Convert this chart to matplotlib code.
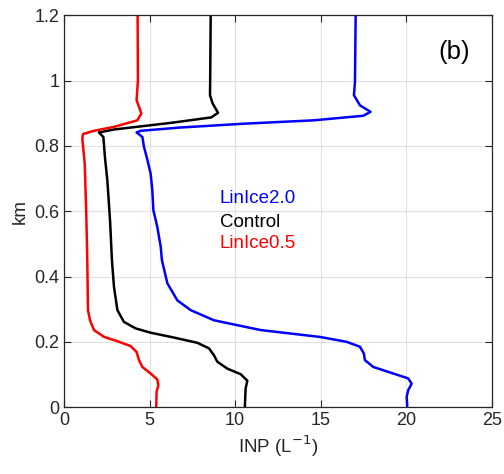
import matplotlib
matplotlib.use("Agg")
import matplotlib.pyplot as plt

# profiles (INP in 1/L, height in km)
lo_z = [0.0, 0.006, 0.047, 0.067, 0.085, 0.103, 0.123, 0.144, 0.169, 0.187, 0.202, 0.215, 0.236,
        0.266, 0.297, 0.45, 0.593, 0.746, 0.822, 0.836, 0.846, 0.858, 0.878, 0.899, 0.940, 1.001, 1.2]
lo_inp = [5.39, 5.39, 5.41, 5.51, 5.45, 5.06, 4.58, 4.38, 4.24, 3.89, 3.12, 2.34, 1.75,
          1.52, 1.40, 1.36, 1.30, 1.21, 1.07, 1.11, 1.75, 2.92, 4.28, 4.52, 4.24, 4.32, 4.30]

ctl_z = [0.0, 0.006, 0.057, 0.081, 0.101, 0.118, 0.139, 0.159, 0.180, 0.197, 0.213, 0.228, 0.241,
         0.261, 0.297, 0.368, 0.45, 0.572, 0.695, 0.766, 0.827, 0.841, 0.850, 0.870, 0.887, 0.901,
         0.930, 0.955, 1.0, 1.2]
ctl_inp = [10.57, 10.57, 10.61, 10.71, 10.32, 9.54, 8.96, 8.76, 8.47, 7.79, 6.43, 5.06, 4.19,
           3.50, 3.12, 2.92, 2.80, 2.69, 2.53, 2.39, 2.30, 2.04, 2.92, 6.2, 8.6, 9.0,
           8.68, 8.53, 8.54, 8.57]

hi_z = [0.0, 0.006, 0.032, 0.052, 0.072, 0.088, 0.103, 0.123, 0.144, 0.164, 0.185, 0.200, 0.215,
        0.236, 0.251, 0.266, 0.297, 0.327, 0.379, 0.45, 0.491, 0.552, 0.603, 0.664, 0.715, 0.766,
        0.797, 0.827, 0.841, 0.846, 0.856, 0.868, 0.878, 0.892, 0.904, 0.924, 0.955, 0.996, 1.2]
hi_inp = [20.05, 20.05, 20.02, 20.11, 20.31, 20.11, 19.24, 18.07, 17.58, 17.52, 17.29, 16.51, 14.95,
          11.5, 10.12, 8.76, 7.40, 6.62, 6.04, 5.72, 5.65, 5.45, 5.22, 5.16, 5.06, 4.83,
          4.67, 4.58, 4.24, 4.48, 6.78, 10.6, 14.56, 17.48, 17.91, 17.29, 16.94, 17.0, 17.04]

plt.rcParams["font.family"] = ["Liberation Sans", "DejaVu Sans"]

fig = plt.figure(figsize=(5.04, 4.74), dpi=100)
ax = fig.add_axes([0.127, 0.141, 0.849, 0.827])

kw = dict(lw=1.8, solid_joinstyle="round", solid_capstyle="butt")
ax.plot(hi_inp, hi_z, color="#0000ff", **kw)
ax.plot(ctl_inp, ctl_z, color="black", **kw)
ax.plot(lo_inp, lo_z, color="#ff0000", **kw)

ax.set_xlim(0, 25)
ax.set_ylim(0, 1.2)
ax.set_xticks([0, 5, 10, 15, 20, 25])
ax.set_yticks([0, 0.2, 0.4, 0.6, 0.8, 1.0, 1.2])
ax.set_yticklabels(["0", "0.2", "0.4", "0.6", "0.8", "1", "1.2"])
ax.grid(True, color="#e0e0e0", lw=0.8)
ax.set_axisbelow(True)
ax.tick_params(direction="in", top=True, right=True, labelsize=13,
               length=5, color="#262626", labelcolor="#262626")
for s in ax.spines.values():
    s.set_color("#262626")
    s.set_linewidth(0.9)

ax.set_xlabel(r"INP (L$^{-1}$)", fontsize=13.5, color="#262626", labelpad=3)
ax.set_ylabel("km", fontsize=13.5, color="#262626", labelpad=4)

ax.text(9.1, 0.64, "LinIce2.0", color="#0000ff", fontsize=13.5, va="center")
ax.text(9.1, 0.566, "Control", color="black", fontsize=13.5, va="center")
ax.text(9.1, 0.50, "LinIce0.5", color="#ff0000", fontsize=13.5, va="center")
ax.text(22.8, 1.087, "(b)", fontsize=18.5, ha="center", va="center")

fig.savefig("out.png", dpi=100)
